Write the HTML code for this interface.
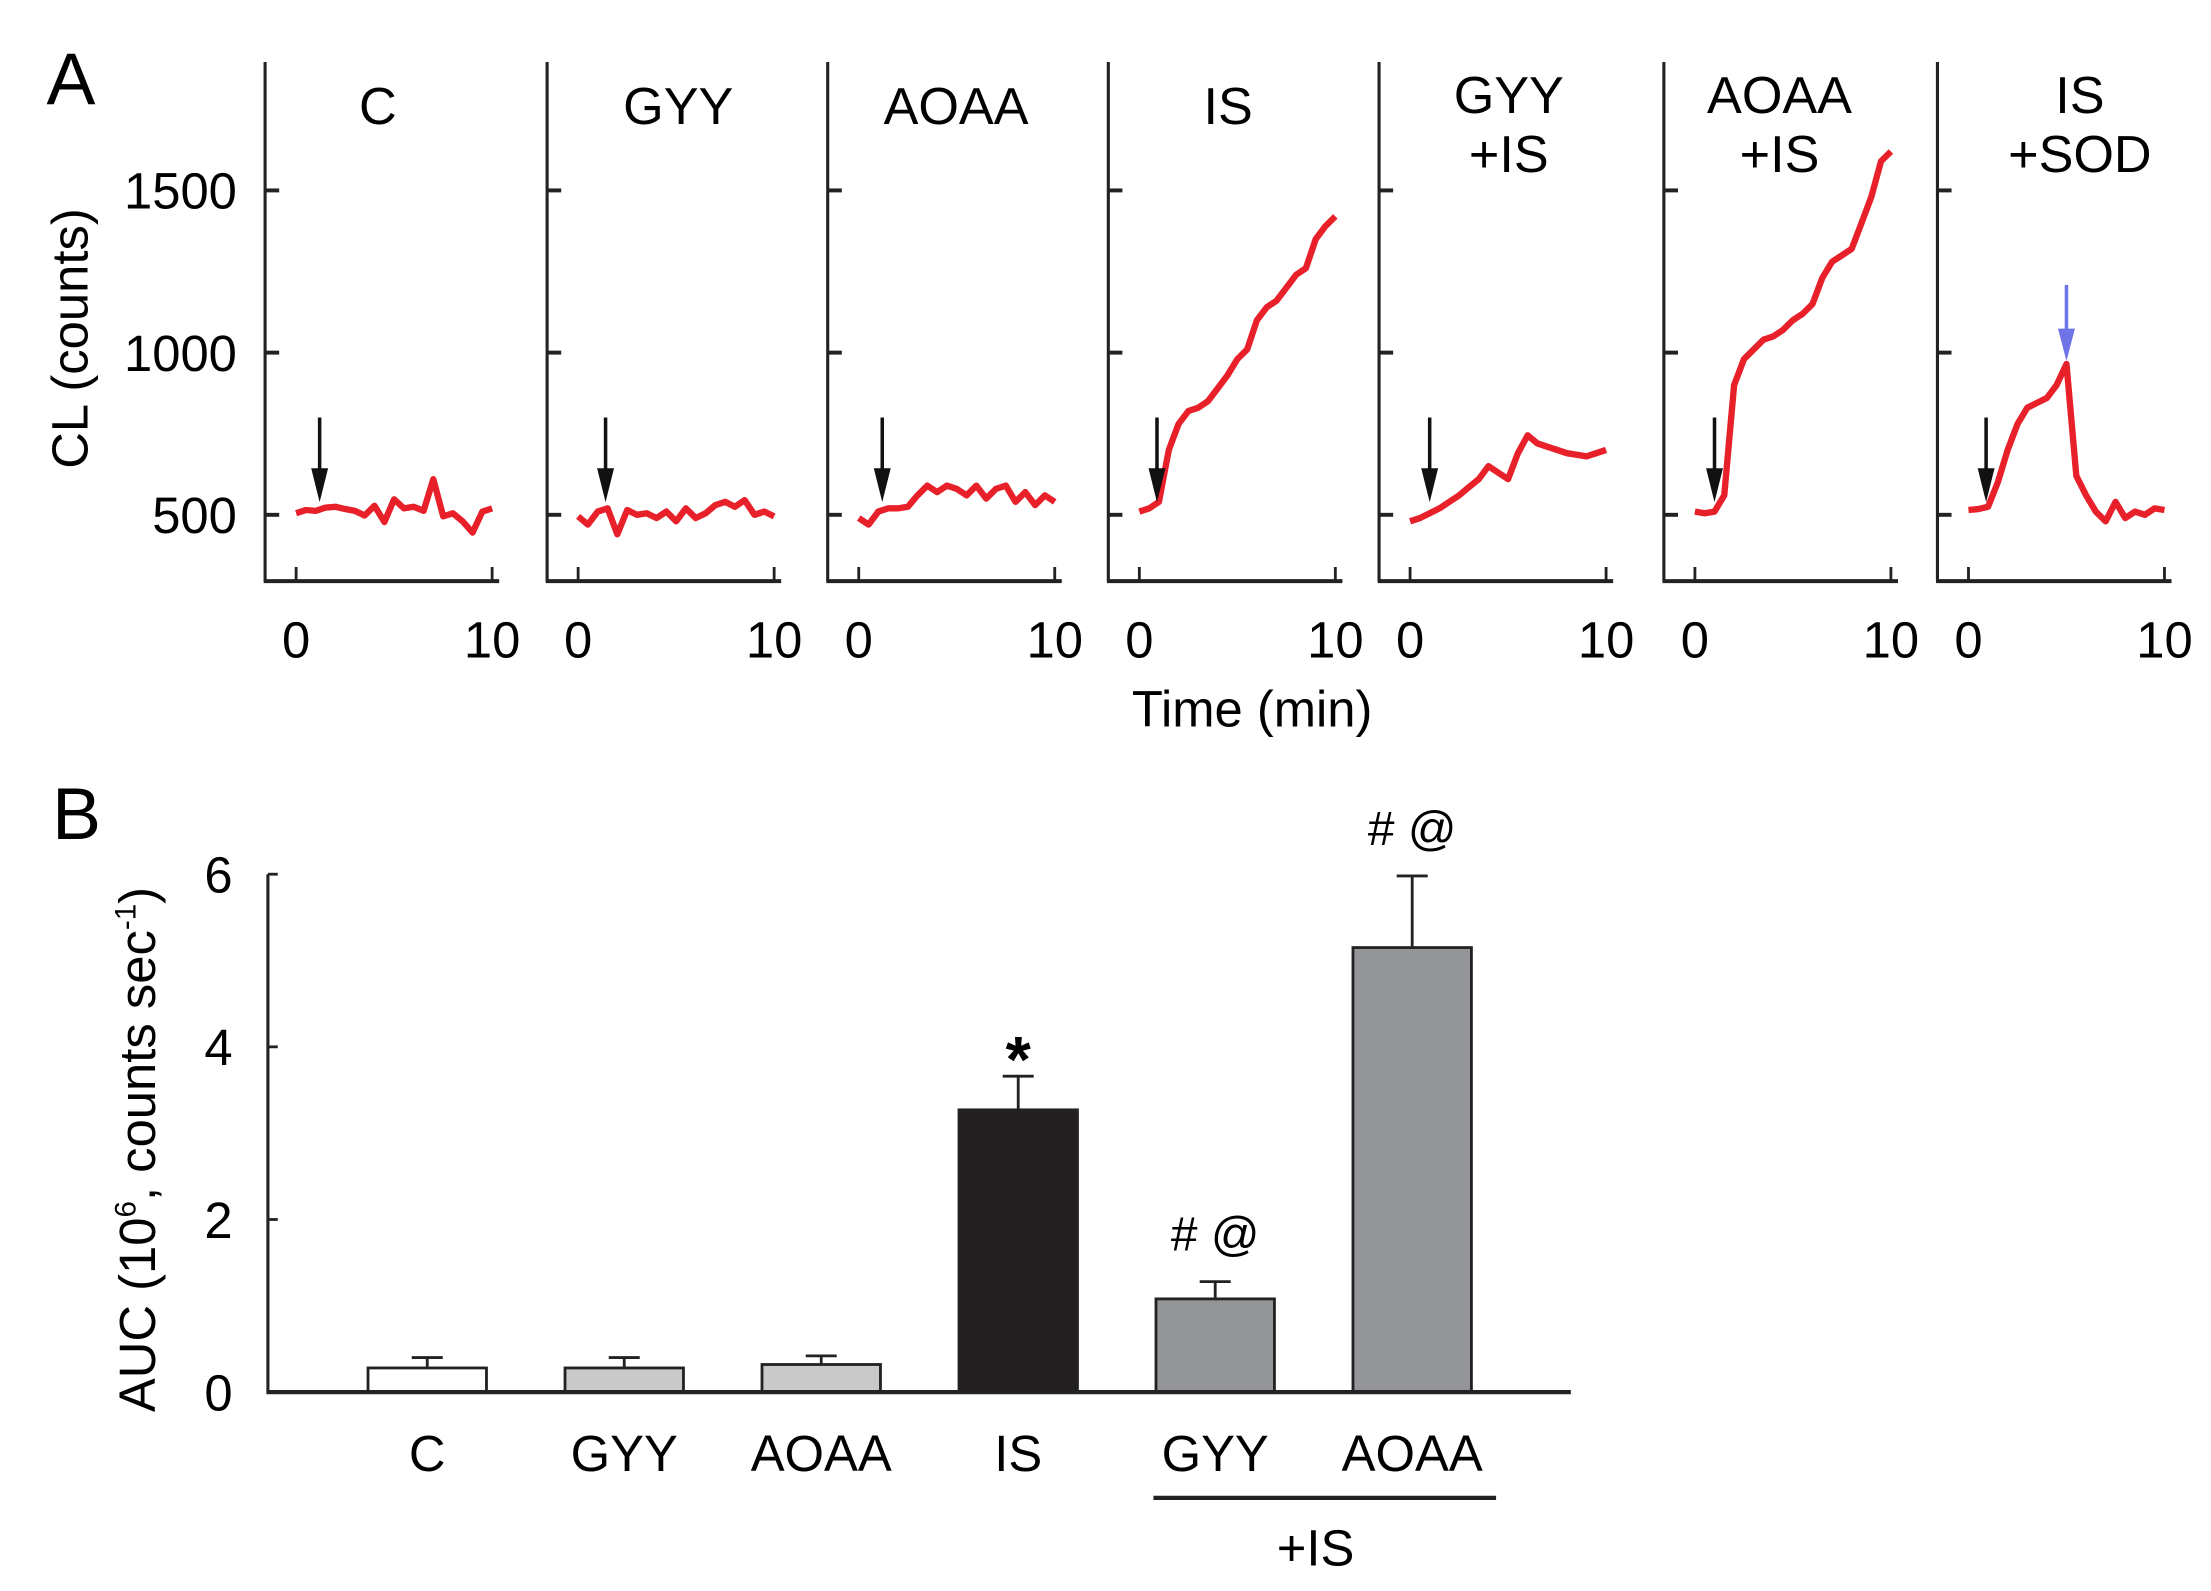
<!DOCTYPE html>
<html><head><meta charset="utf-8">
<style>
html,body{margin:0;padding:0;background:#fff;}
svg{display:block;font-family:"Liberation Sans",Arial,sans-serif;}
</style></head>
<body>
<svg id="fig" width="2211" height="1591" viewBox="0 0 1568 1128" preserveAspectRatio="none" xmlns="http://www.w3.org/2000/svg">
<rect width="1568" height="1128" fill="#fff"/>
<g id="panelA"></g>
<g id="panelB"></g>
</svg>
<script>
// ---- Panel A data ----
const panelTitles = [["C"],["GYY"],["AOAA"],["IS"],["GYY","+IS"],["AOAA","+IS"],["IS","+SOD"]];
const timePoints = [0,0.5,1,1.5,2,2.5,3,3.5,4,4.5,5,5.5,6,6.5,7,7.5,8,8.5,9,9.5,10];
const seriesC = [505,515,512,522,525,518,512,498,528,478,548,520,525,512,610,495,505,480,445,510,520];
const seriesGYY = [495,470,510,520,440,515,500,505,490,510,480,520,490,505,530,540,525,545,500,510,495];
const seriesAOAA = [490,470,510,520,520,525,560,590,570,590,580,560,590,550,580,590,540,570,530,560,540];
const seriesIS = [510,520,540,700,780,820,830,850,890,930,980,1010,1100,1140,1160,1200,1240,1260,1350,1390,1420];
const seriesGYYIS = [480,490,505,520,540,560,585,610,650,630,610,690,745,720,710,700,690,685,680,690,700];
const seriesAOAAIS = [510,505,510,560,900,980,1010,1040,1050,1070,1100,1120,1150,1230,1280,1300,1320,1400,1480,1590,1620];
const seriesISSOD = [515,518,525,600,700,780,830,845,860,900,965,620,560,510,480,540,490,510,500,520,515];
const allSeries = [seriesC,seriesGYY,seriesAOAA,seriesIS,seriesGYYIS,seriesAOAAIS,seriesISSOD];
const arrowTimes = [1.2,1.4,1.2,0.9,1.0,1.0,0.9];
const sodArrowTime = 5;
const yTicksA = [500,1000,1500];
const xTicksA = [0,10];

// ---- Panel B data ----
const barCategories = ["C","GYY","AOAA","IS","GYY","AOAA"];
const barValues = [0.28,0.28,0.32,3.27,1.08,5.15];
const barErrors = [0.12,0.12,0.10,0.39,0.20,0.83];
const barAnnotations = ["","","","*","# @","# @"];
const yTicksB = [0,2,4,6];

const NS="http://www.w3.org/2000/svg";
function mk(tag,attrs,parent){const e=document.createElementNS(NS,tag);for(const k in attrs)e.setAttribute(k,attrs[k]);parent.appendChild(e);return e;}

// ---- Panel A ----
const A=document.getElementById('panelA');
const panelLeft=[188,388,587,786,978,1180,1374];
const titleX=[268,481,678,871,1070,1262,1475];
const yA=v=>365-(v-500)*0.23;
let t;
t=mk('text',{x:33,y:74,'font-size':52},A);t.textContent="A";


t=mk('text',{x:0,y:0,'font-size':36,'text-anchor':'middle',transform:'translate(62,240) rotate(-90)'},A);t.textContent="CL (counts)";


yTicksA.forEach(v=>{
  const l=mk('text',{x:168,y:yA(v)+13,'font-size':36,'text-anchor':'end'},A);l.textContent=v;
  
  
});
t=mk('text',{x:888,y:515,'font-size':36,'text-anchor':'middle'},A);t.textContent="Time (min)";


panelLeft.forEach((L,i)=>{
  const g=mk('g',{},A);
  
  
  const xA=tm=>L+22+tm*13.9;
  mk('line',{x1:L,y1:44,x2:L,y2:412,stroke:'#222','stroke-width':2.2},g);
  mk('line',{x1:L-1,y1:412,x2:L+166,y2:412,stroke:'#222','stroke-width':2.8},g);
  yTicksA.forEach(v=>mk('line',{x1:L,y1:yA(v),x2:L+10,y2:yA(v),stroke:'#222','stroke-width':2.8},g));
  xTicksA.forEach(v=>{
    mk('line',{x1:xA(v),y1:402,x2:xA(v),y2:412,stroke:'#222','stroke-width':2},g);
    const l=mk('text',{x:xA(v),y:466,'font-size':36,'text-anchor':'middle'},g);l.textContent=v;
    
    
  });
  const ti=panelTitles[i];
  ti.forEach((s,j)=>{
    const yy = ti.length===1 ? 88 : 80+j*42;
    const l=mk('text',{x:titleX[i],y:yy,'font-size':37,'text-anchor':'middle'},g);l.textContent=s;
    
    
  });
  const d=allSeries[i].map((v,k)=>(k?'L':'M')+xA(timePoints[k]).toFixed(1)+' '+yA(v).toFixed(1)).join(' ');
  const p=mk('path',{d:d,fill:'none',stroke:'#e8202a','stroke-width':4.5,'stroke-linejoin':'round'},g);
  
  
  const ax=xA(arrowTimes[i]);
  const a=mk('g',{},g);
  
  
  mk('line',{x1:ax,y1:296,x2:ax,y2:340,stroke:'#111','stroke-width':2.5},a);
  mk('path',{d:`M${ax-6} 332 L${ax} 356 L${ax+6} 332 Z`,fill:'#111'},a);
  if(i===6){
    const bx=xA(sodArrowTime);
    const b=mk('g',{},g);
    
    
    mk('line',{x1:bx,y1:202,x2:bx,y2:240,stroke:'#6f74e8','stroke-width':2.5},b);
    mk('path',{d:`M${bx-6} 233 L${bx} 256 L${bx+6} 233 Z`,fill:'#6f74e8'},b);
  }
});

// ---- Panel B ----
const B=document.getElementById('panelB');
const yB=v=>987-v*61.2;
const xB=i=>303+i*139.7;
const fills=['#ffffff','#c9c9c9','#c9c9c9','#231f20','#939598','#939598'];
t=mk('text',{x:37,y:595,'font-size':52},B);t.textContent="B";


t=mk('text',{x:0,y:0,'font-size':36,'text-anchor':'middle',transform:'translate(110,815) rotate(-90)'},B);
t.innerHTML='AUC (10<tspan font-size="21" dy="-14">6</tspan><tspan dy="14">, counts sec</tspan><tspan font-size="21" dy="-14">-1</tspan><tspan dy="14">)</tspan>';


mk('line',{x1:190,y1:yB(6),x2:190,y2:988,stroke:'#222','stroke-width':2.2},B);
yTicksB.forEach(v=>{
  mk('line',{x1:190,y1:yB(v),x2:197,y2:yB(v),stroke:'#222','stroke-width':2},B);
  const l=mk('text',{x:165,y:yB(v)+13,'font-size':36,'text-anchor':'end'},B);l.textContent=v;
  
  
});
barValues.forEach((v,i)=>{
  const cx=xB(i);
  const e=mk('line',{x1:cx,y1:yB(v),x2:cx,y2:yB(v+barErrors[i]),stroke:'#222','stroke-width':2},B);
  
  
  mk('line',{x1:cx-11,y1:yB(v+barErrors[i]),x2:cx+11,y2:yB(v+barErrors[i]),stroke:'#222','stroke-width':2},B);
  const r=mk('rect',{x:cx-42,y:yB(v),width:84,height:987-yB(v),fill:fills[i],stroke:'#222','stroke-width':2},B);
  
  
  const l=mk('text',{x:cx,y:1043,'font-size':36,'text-anchor':'middle'},B);l.textContent=barCategories[i];
  
  
  if(barAnnotations[i]){
    const star=barAnnotations[i]==='*';
    const a=mk('text',{x:cx,y:yB(v+barErrors[i])-(star?-4:22),'font-size':star?46:34,'text-anchor':'middle','font-weight':star?'bold':'normal'},B);
    a.textContent=barAnnotations[i];
    
    
  }
});
mk('line',{x1:189,y1:987,x2:1114,y2:987,stroke:'#222','stroke-width':3},B);
const br=mk('line',{x1:818,y1:1062,x2:1061,y2:1062,stroke:'#222','stroke-width':3},B);


t=mk('text',{x:933,y:1110,'font-size':36,'text-anchor':'middle'},B);t.textContent="+IS";


</script>
</body></html>
